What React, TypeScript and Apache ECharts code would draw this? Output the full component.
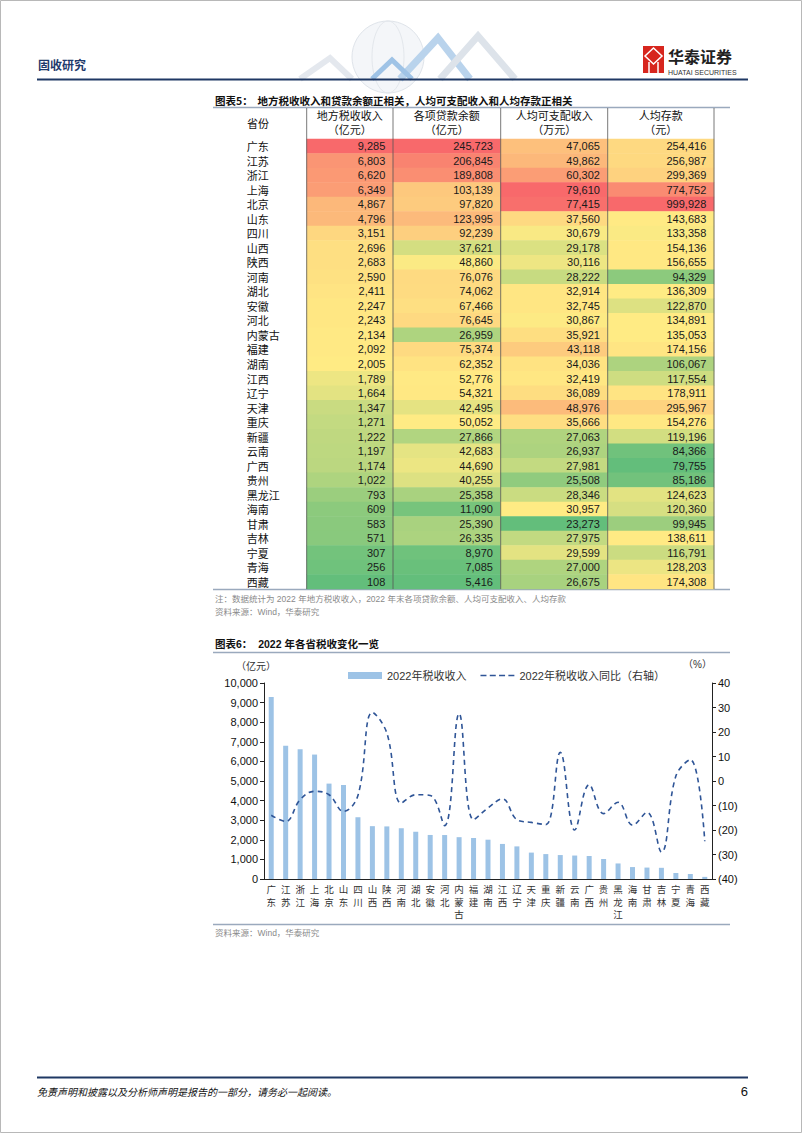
import React, { useEffect, useRef } from "react";
import * as echarts from "echarts";

const provinces = ["广东", "江苏", "浙江", "上海", "北京", "山东", "四川", "山西", "陕西", "河南", "湖北", "安徽", "河北", "内蒙古", "福建", "湖南", "江西", "辽宁", "天津", "重庆", "新疆", "云南", "广西", "贵州", "黑龙江", "海南", "甘肃", "吉林", "宁夏", "青海", "西藏"];
const taxRevenue = [9285, 6803, 6620, 6349, 4867, 4796, 3151, 2696, 2683, 2590, 2411, 2247, 2243, 2134, 2092, 2005, 1789, 1664, 1347, 1271, 1222, 1197, 1174, 1022, 793, 609, 583, 571, 307, 256, 108];
const loanBalance = [245723, 206845, 189808, 103139, 97820, 123995, 92239, 37621, 48860, 76076, 74062, 67466, 76645, 26959, 75374, 62352, 52776, 54321, 42495, 50052, 27866, 42683, 44690, 40255, 25358, 11090, 25390, 26335, 8970, 7085, 5416];
const disposableIncome = [47065, 49862, 60302, 79610, 77415, 37560, 30679, 29178, 30116, 28222, 32914, 32745, 30867, 35921, 43118, 34036, 32419, 36089, 48976, 35666, 27063, 26937, 27981, 25508, 28346, 30957, 23273, 27975, 29599, 27000, 26675];
const depositPerCapita = [254416, 256987, 299369, 774752, 999928, 143683, 133358, 154136, 156655, 94329, 136309, 122870, 134891, 135053, 174156, 106067, 117554, 178911, 295967, 154276, 119196, 84366, 79755, 85186, 124623, 120360, 99945, 138611, 116791, 128203, 174308];
const taxYoY = [-14.0, -16.5, -7.6, -4.2, -5.6, -12.4, -5.9, 28.0, 19.6, -9.0, -5.6, -5.9, -18.2, 27.5, -15.8, -11.0, -7.3, -15.8, -16.9, -17.8, 11.7, -20.0, -1.5, -13.3, -8.7, -18.0, -12.8, -29.0, 2.0, 8.7, -24.6];
const tableHeaders = ["地方税收收入\n（亿元）", "各项贷款余额\n（亿元）", "人均可支配收入\n（万元）", "人均存款\n（元）"];
const tableColumns = [taxRevenue, loanBalance, disposableIncome, depositPerCapita];
const barName = "2022年税收收入";
const lineName = "2022年税收收入同比（右轴）";

const CJK = '"Noto Sans CJK SC", sans-serif';
const MIX = '"Liberation Sans", Arial, "Noto Sans CJK SC", sans-serif';

// Excel-style 3-colour scale with 50th percentile midpoint
function scalePos(arr: number[]) {
  const s = [...arr].sort((a, b) => a - b);
  const min = s[0], max = s[s.length - 1], med = s[Math.floor(s.length / 2)];
  return arr.map((v) => (v <= med ? 0.5 * (v - min) / (med - min) : 0.5 + 0.5 * (v - med) / (max - med)));
}

// dashed legend icon (with invisible corner points to keep a 34x7 box)
const dashIcon =
  "path://M0,0h0.01v0.01h-0.01zM0,7h0.01v-0.01h-0.01zM34,0h-0.01v0.01h0.01z" +
  "M0,2.7h6v1.6h-6zM9.3,2.7h6v1.6h-6zM18.6,2.7h6v1.6h-6zM27.9,2.7h6v1.6h-6z";

export default function App() {
  const ref = useRef<HTMLDivElement>(null);
  useEffect(() => {
    document.body.style.margin = "0";
    const chart = echarts.init(ref.current!, null, { renderer: "svg" });
    const colEdges = [306.7, 393, 500.7, 607.7, 714];
    const tTop = 139, tH = 450;
    const grids: any[] = [];
    const xAxes: any[] = [];
    const yAxes: any[] = [];
    const series: any[] = [];
    const visualMaps: any[] = [];
    tableColumns.forEach((col, i) => {
      const pos = scalePos(col);
      grids.push({ left: colEdges[i], width: colEdges[i + 1] - colEdges[i], top: tTop, height: tH });
      xAxes.push({
        type: "category", gridIndex: i, position: "top", data: [tableHeaders[i]],
        axisLine: { show: false }, axisTick: { show: false },
        axisLabel: { margin: 3, fontSize: 11, lineHeight: 14, color: "#111", fontFamily: CJK },
      });
      yAxes.push({
        type: "category", gridIndex: i, inverse: true, data: provinces,
        axisLine: { show: false }, axisTick: { show: false },
        axisLabel: i === 0 ? { show: true, align: "left", margin: 60, fontSize: 11, color: "#111", fontFamily: CJK } : { show: false },
      });
      series.push({
        type: "heatmap", xAxisIndex: i, yAxisIndex: i,
        data: col.map((v, r) => [0, r, v, pos[r]]),
        label: {
          show: true, position: "insideRight", distance: 8, fontSize: 11, color: "#1a1a1a", fontFamily: MIX,
          formatter: (p: any) => Number(p.value[2]).toLocaleString("en-US"),
        },
        emphasis: { disabled: true },
      });
      visualMaps.push({
        type: "continuous", show: false, seriesIndex: i, dimension: 3, min: 0, max: 1,
        inRange: { color: ["#63BE7B", "#FFEB84", "#F8696B"] },
      });
    });

    // bar/line chart
    grids.push({ left: 264, right: 90, top: 683, height: 196 });
    xAxes.push({
      type: "category", gridIndex: 4, data: provinces,
      axisLine: { lineStyle: { color: "#222" } },
      axisTick: { lineStyle: { color: "#222" }, length: 4 },
      axisLabel: {
        interval: 0, margin: 4, fontSize: 9.5, lineHeight: 12.5, color: "#333", fontFamily: CJK,
        formatter: (v: string) => v.split("").join("\n"),
      },
    });
    yAxes.push({
      type: "value", gridIndex: 4, min: 0, max: 10000, interval: 1000, position: "left",
      name: "（亿元）", nameLocation: "end", nameGap: 13,
      nameTextStyle: { fontSize: 10, color: "#333", fontFamily: CJK, align: "center", padding: [0, 16, 0, 0] },
      axisLine: { show: true, lineStyle: { color: "#222" } },
      axisTick: { show: true, length: 4, lineStyle: { color: "#222" } },
      splitLine: { show: false },
      axisLabel: { fontSize: 11, color: "#111", fontFamily: MIX, margin: 6, formatter: (v: number) => v.toLocaleString("en-US") },
    });
    yAxes.push({
      type: "value", gridIndex: 4, min: -40, max: 40, interval: 10, position: "right",
      name: "（%）", nameLocation: "end", nameGap: 14,
      nameTextStyle: { fontSize: 10, color: "#333", fontFamily: MIX, align: "right" },
      axisLine: { show: true, lineStyle: { color: "#222" } },
      axisTick: { show: true, length: 4, lineStyle: { color: "#222" } },
      splitLine: { show: false },
      axisLabel: { fontSize: 11, color: "#111", fontFamily: MIX, margin: 6, formatter: (v: number) => (v < 0 ? `(${-v})` : `${v}`) },
    });
    series.push({
      name: barName, type: "bar", xAxisIndex: 4, yAxisIndex: 4, data: taxRevenue,
      barWidth: 5, itemStyle: { color: "#9DC3E6" },
    });
    series.push({
      name: lineName, type: "line", xAxisIndex: 4, yAxisIndex: 5, data: taxYoY,
      smooth: 0.4, symbol: "none",
      lineStyle: { color: "#2F5597", width: 1.6, type: [5, 4] },
      itemStyle: { color: "#2F5597" },
    });

    const lineColor = "#9aa9bd";
    const graphics: any[] = [
      { type: "rect", shape: { x: 0.5, y: 0.5, width: 801, height: 1132 }, style: { fill: "none", stroke: "#b8b8b8", lineWidth: 1 } },
      // header decoration
      { type: "circle", shape: { cx: 388, cy: 57, r: 36 }, style: { fill: "#f4f6f9", stroke: "#dfe4ea", lineWidth: 1 } },
      { type: "ellipse", shape: { cx: 388, cy: 57, rx: 16, ry: 36 }, style: { fill: "none", stroke: "#e3e7ec", lineWidth: 1 } },
      { type: "polyline", shape: { points: [[300, 79], [330, 58], [352, 79]] }, style: { fill: "none", stroke: "#e4e8ee", lineWidth: 6 } },
      { type: "polyline", shape: { points: [[400, 79], [438, 38], [470, 79]] }, style: { fill: "none", stroke: "#b9d3ec", lineWidth: 7 } },
      { type: "polyline", shape: { points: [[440, 79], [478, 36], [515, 79]] }, style: { fill: "none", stroke: "#dde3ea", lineWidth: 7 } },
      { type: "polyline", shape: { points: [[372, 79], [392, 60], [412, 79]] }, style: { fill: "none", stroke: "#9fc3e6", lineWidth: 5 } },
      { type: "text", x: 38, y: 64, style: { text: "固收研究", fontSize: 12, fontWeight: "bold", fill: "#1F3A6B", fontFamily: CJK, verticalAlign: "middle" } },
      { type: "rect", shape: { x: 643, y: 46, width: 21, height: 27 }, style: { fill: "#D7261E" } },
      { type: "polygon", shape: { points: [[653.5, 48], [662, 56], [653.5, 64], [645, 56]] }, style: { fill: "none", stroke: "#fff", lineWidth: 1.5 } },
      { type: "line", shape: { x1: 649, y1: 62, x2: 649, y2: 73 }, style: { stroke: "#fff", lineWidth: 1.5 } },
      { type: "line", shape: { x1: 658, y1: 62, x2: 658, y2: 73 }, style: { stroke: "#fff", lineWidth: 1.5 } },
      { type: "text", x: 668, y: 56, style: { text: "华泰证券", fontSize: 16, fontWeight: "bold", fill: "#222", fontFamily: CJK, verticalAlign: "middle" } },
      { type: "text", x: 668, y: 72, style: { text: "HUATAI SECURITIES", fontSize: 7, fill: "#333", fontFamily: MIX, verticalAlign: "middle" } },
      { type: "line", shape: { x1: 37, y1: 79.5, x2: 748, y2: 79.5 }, style: { stroke: "#1F3864", lineWidth: 2 } },
      // table 5
      { type: "text", x: 215, y: 100, style: { text: "图表5：  地方税收收入和贷款余额正相关，人均可支配收入和人均存款正相关", fontSize: 10.5, fontWeight: "bold", fill: "#111", fontFamily: CJK, verticalAlign: "middle" } },
      { type: "line", shape: { x1: 213, y1: 107.5, x2: 730, y2: 107.5 }, style: { stroke: lineColor, lineWidth: 1.5 } },
      { type: "text", x: 247, y: 123, style: { text: "省份", fontSize: 11, fill: "#111", fontFamily: CJK, verticalAlign: "middle" } },
      ...colEdges.map((x) => ({ type: "line", z: 10, shape: { x1: x, y1: 108, x2: x, y2: 589 }, style: { stroke: "#555", lineWidth: 0.8 } })),
      { type: "line", shape: { x1: 213, y1: 589.5, x2: 730, y2: 589.5 }, style: { stroke: lineColor, lineWidth: 1.5 } },
      { type: "text", x: 215, y: 599, style: { text: "注：数据统计为 2022 年地方税收收入，2022 年末各项贷款余额、人均可支配收入、人均存款", fontSize: 8.5, fill: "#8a8a8a", fontFamily: MIX, verticalAlign: "middle" } },
      { type: "text", x: 215, y: 612, style: { text: "资料来源：Wind，华泰研究", fontSize: 8.5, fill: "#8a8a8a", fontFamily: MIX, verticalAlign: "middle" } },
      // chart 6
      { type: "text", x: 215, y: 644, style: { text: "图表6：  2022 年各省税收变化一览", fontSize: 10.5, fontWeight: "bold", fill: "#111", fontFamily: MIX, verticalAlign: "middle" } },
      { type: "line", shape: { x1: 213, y1: 652.5, x2: 730, y2: 652.5 }, style: { stroke: lineColor, lineWidth: 1.5 } },
      { type: "line", shape: { x1: 213, y1: 924.5, x2: 730, y2: 924.5 }, style: { stroke: lineColor, lineWidth: 1.5 } },
      { type: "text", x: 215, y: 933, style: { text: "资料来源：Wind，华泰研究", fontSize: 8.5, fill: "#8a8a8a", fontFamily: MIX, verticalAlign: "middle" } },
      // footer
      { type: "line", shape: { x1: 37, y1: 1077.5, x2: 748, y2: 1077.5 }, style: { stroke: "#1F3864", lineWidth: 2 } },
      { type: "text", x: 37, y: 1091, style: { text: "免责声明和披露以及分析师声明是报告的一部分，请务必一起阅读。", fontSize: 10, fontStyle: "italic", fill: "#111", fontFamily: CJK, verticalAlign: "middle" } },
      { type: "text", x: 748, y: 1091, style: { text: "6", fontSize: 13, fill: "#111", fontFamily: MIX, align: "right", verticalAlign: "middle" } },
    ];

    chart.setOption({
      animation: false,
      backgroundColor: "#fff",
      grid: grids,
      xAxis: xAxes,
      yAxis: yAxes,
      visualMap: visualMaps,
      series,
      legend: {
        left: 343, top: 665, itemWidth: 34, itemHeight: 7, itemGap: 14,
        textStyle: { fontSize: 11, color: "#333", fontFamily: MIX },
        data: [
          { name: barName, icon: "rect" },
          { name: lineName, icon: dashIcon, itemStyle: { color: "#2F5597" } },
        ],
      },
      graphic: graphics,
    });
    return () => chart.dispose();
  }, []);
  return <div ref={ref} style={{ width: 802, height: 1133 }} />;
}
